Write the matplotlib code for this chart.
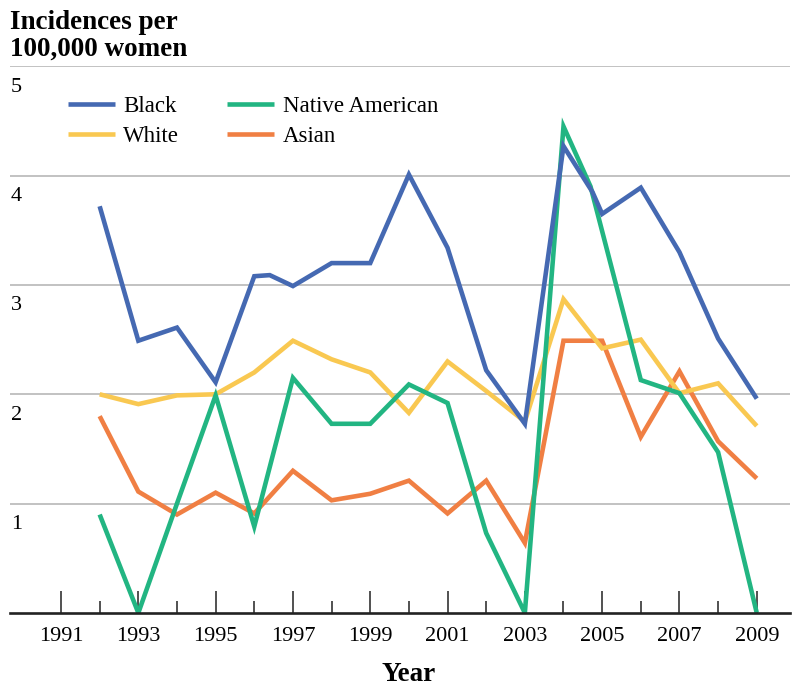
import matplotlib
matplotlib.use("Agg")
import matplotlib.pyplot as plt
from matplotlib.transforms import ScaledTranslation
from matplotlib.ticker import FixedLocator

# ---- data ----
black_years = [1992, 1993, 1994, 1995, 1996, 1996.4, 1997, 1998, 1999, 2000, 2001,
               2002, 2003, 2004, 2004.75, 2005, 2006, 2007, 2008, 2009]
black = [3.72, 2.49, 2.61, 2.11, 3.08, 3.09, 2.99, 3.20, 3.20, 4.01, 3.34,
         2.22, 1.73, 4.27, 3.85, 3.65, 3.89, 3.30, 2.51, 1.96]

white_years = list(range(1992, 2010))
white = [2.00, 1.91, 1.99, 2.00, 2.20, 2.49, 2.32, 2.20, 1.83, 2.30, 2.03, 1.75,
         2.87, 2.42, 2.50, 2.01, 2.10, 1.71]

native_years = [1992, 1993, 1994, 1995, 1996, 1997, 1998, 1999, 2000, 2001, 2002,
                2003, 2004, 2004.7, 2006, 2007, 2008, 2009]
native = [0.90, 0.00, 1.00, 1.99, 0.79, 2.15, 1.73, 1.73, 2.09, 1.92, 0.73,
          0.00, 4.45, 3.90, 2.13, 2.01, 1.47, 0.00]

asian_years = list(range(1992, 2010))
asian = [1.80, 1.11, 0.90, 1.10, 0.91, 1.30, 1.03, 1.09, 1.21, 0.91, 1.21, 0.64,
         2.49, 2.49, 1.61, 2.21, 1.57, 1.23]

major_years = list(range(1991, 2010, 2))
minor_years = list(range(1992, 2009, 2))
y_ticks = [1, 2, 3, 4, 5]

c_black = "#4569B2"
c_white = "#F9C851"
c_native = "#22B582"
c_asian = "#F07F43"

serif = ["Liberation Serif", "DejaVu Serif"]
plt.rcParams["font.family"] = serif

fig = plt.figure(figsize=(8.0, 6.91), dpi=100)
ax = fig.add_axes([0.0125, 0.113, 0.975, 0.791])

lw = 3.3
kw = dict(linewidth=lw, solid_joinstyle="miter", solid_capstyle="butt")
l_asian, = ax.plot(asian_years, asian, color=c_asian, label="Asian", zorder=3, **kw)
l_white, = ax.plot(white_years, white, color=c_white, label="White", zorder=4, **kw)
l_native, = ax.plot(native_years, native, color=c_native, label="Native American", zorder=5, **kw)
l_black, = ax.plot(black_years, black, color=c_black, label="Black", zorder=6, **kw)

ax.set_xlim(1989.68, 2009.86)
ax.set_ylim(0, 5)

for sp in ["top", "right", "left"]:
    ax.spines[sp].set_visible(False)
ax.spines["bottom"].set_linewidth(1.9)
ax.spines["bottom"].set_color("#222222")
ax.spines["bottom"].set_zorder(7)

ax.xaxis.set_major_locator(FixedLocator(major_years))
ax.xaxis.set_minor_locator(FixedLocator(minor_years))
ax.set_xticklabels([str(y) for y in major_years])
ax.tick_params(axis="x", which="major", direction="in", length=15.5, width=1.1,
               color="#222222", labelsize=16, pad=10)
ax.tick_params(axis="x", which="minor", direction="in", length=9, width=1.1,
               color="#222222")

ax.set_yticks(y_ticks)
ax.set_yticklabels([str(v) for v in y_ticks])
ax.tick_params(axis="y", length=0, pad=0, labelsize=16)
off = ScaledTranslation(0.01, -0.115, fig.dpi_scale_trans)
for lbl in ax.get_yticklabels():
    lbl.set_horizontalalignment("left")
    lbl.set_verticalalignment("top")
    lbl.set_transform(lbl.get_transform() + off)

ax.grid(axis="y", color="#BDBDBD", linewidth=1.3, zorder=0)
ax.set_axisbelow(True)

fig.text(0.0125, 0.986, "Incidences per\n100,000 women", ha="left", va="top",
         fontsize=19.5, fontweight="bold", linespacing=1.1)

ax.text(2000, 0, "Year", ha="center", va="top", fontsize=19.5, fontweight="bold",
        transform=ax.get_xaxis_transform() +
        ScaledTranslation(0, -0.49, fig.dpi_scale_trans))

leg = ax.legend(handles=[l_black, l_white, l_native, l_asian], ncol=2,
                loc="upper left", bbox_to_anchor=(0.0846, 0.861),
                bbox_transform=fig.transFigure, frameon=False,
                fontsize=16.5, handlelength=2.05, handletextpad=0.38,
                columnspacing=2.1, labelspacing=0.38, borderpad=0,
                borderaxespad=0)
for h in leg.legend_handles:
    h.set_linewidth(3.3)

fig.savefig("out.png", dpi=100)
